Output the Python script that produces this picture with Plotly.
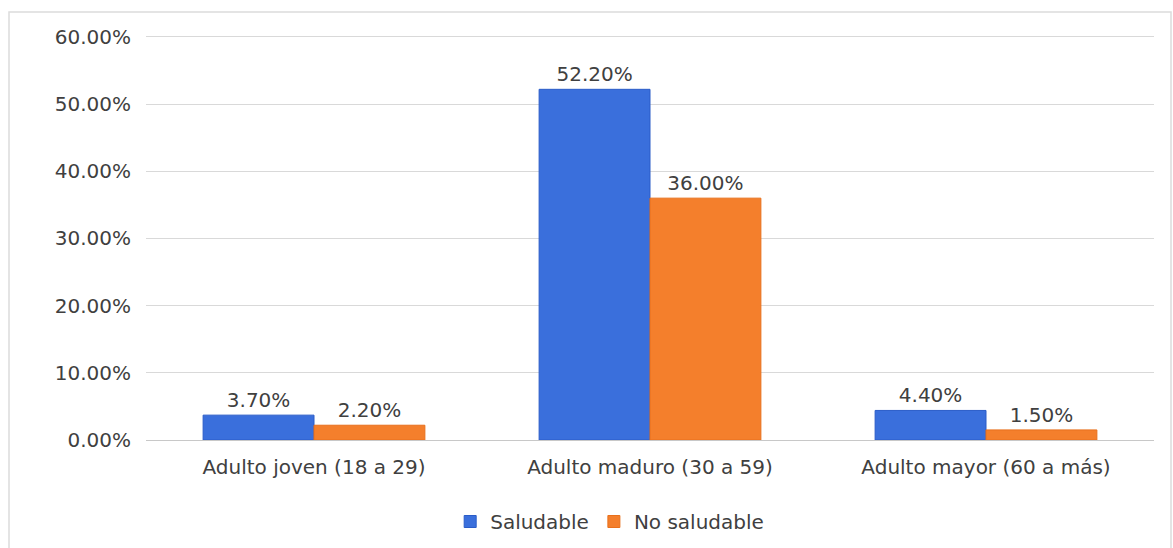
import plotly.graph_objects as go

categories = ["Adulto joven (18 a 29)", "Adulto maduro (30 a 59)", "Adulto mayor (60 a más)"]
saludable = [3.70, 52.20, 4.40]
no_saludable = [2.20, 36.00, 1.50]
tick_vals = [0, 10, 20, 30, 40, 50, 60]

FONT = "DejaVu Sans"
TXT = "#404040"
FS = 20

fig = go.Figure()
fig.add_trace(go.Bar(
    name="Saludable", x=categories, y=saludable,
    marker=dict(color="#3a6fdc", line=dict(color="#2a5cc8", width=1)),
    text=[f"{v:.2f}%" for v in saludable], textposition="outside",
    textfont=dict(family=FONT, size=FS, color=TXT), cliponaxis=False,
))
fig.add_trace(go.Bar(
    name="No saludable", x=categories, y=no_saludable,
    marker=dict(color="#f47f2c", line=dict(color="#e8701c", width=1)),
    text=[f"{v:.2f}%" for v in no_saludable], textposition="outside",
    textfont=dict(family=FONT, size=FS, color=TXT), cliponaxis=False,
))

# left-aligned tick labels: pad with figure spaces (digit width)
tick_text = [("\u2007" if v < 10 else "") + f"{v:.2f}%" for v in tick_vals]

fig.update_layout(
    width=1173, height=548,
    margin=dict(l=146, r=19, t=30, b=108, autoexpand=False),
    paper_bgcolor="white", plot_bgcolor="white",
    barmode="group", bargap=0.34, bargroupgap=0,
    font=dict(family=FONT, size=FS, color=TXT),
    showlegend=True,
    legend=dict(orientation="h", x=0.46, xanchor="center",
                yref="container", y=1 - 502 / 548, yanchor="top",
                font=dict(family=FONT, size=FS, color=TXT),
                traceorder="normal"),
)
fig.update_yaxes(
    range=[0, 61.03], tickvals=tick_vals, ticktext=tick_text,
    showgrid=True, gridcolor="#d9d9d9", gridwidth=1,
    zeroline=True, zerolinecolor="#c8c8c8", zerolinewidth=1,
    showline=False, ticks="", ticklabelstandoff=14, automargin=False,
    tickfont=dict(family=FONT, size=FS, color=TXT),
)
fig.update_xaxes(
    showgrid=False, showline=False, ticks="", ticklabelstandoff=13, automargin=False,
    tickfont=dict(family=FONT, size=FS, color=TXT),
)

# chart frame
fig.add_shape(type="rect", xref="paper", yref="paper",
              x0=(9 - 146) / 1008, x1=(1171 - 146) / 1008,
              y0=(440 - 560) / 410, y1=(440 - 12) / 410,
              line=dict(color="#dcdcdc", width=1.5), fillcolor="rgba(0,0,0,0)", layer="below")

fig.write_html("out.html")
